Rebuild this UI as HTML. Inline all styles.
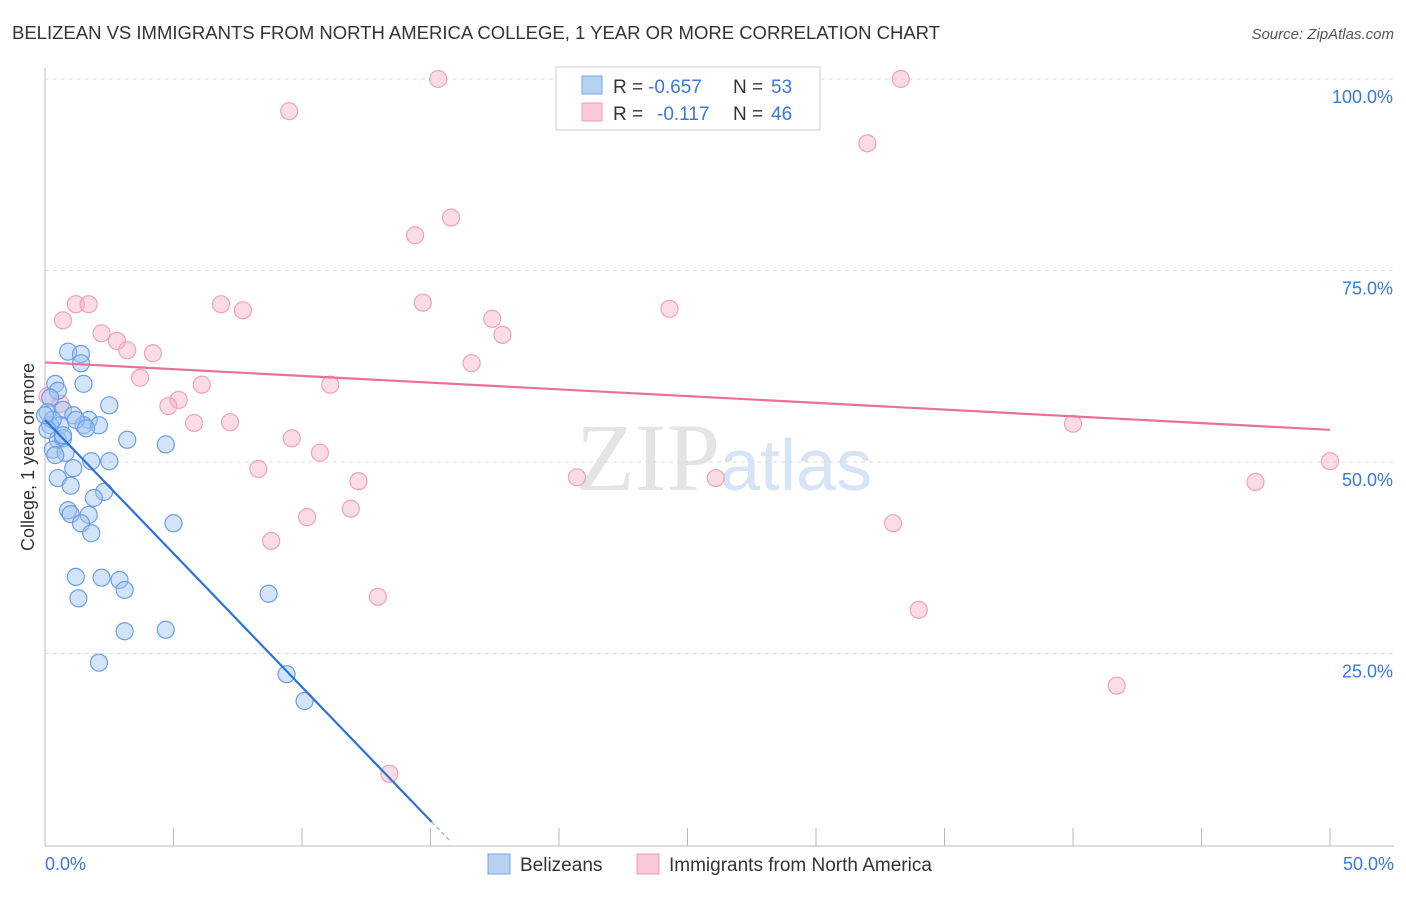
<!DOCTYPE html>
<html><head><meta charset="utf-8"><style>
body{margin:0;background:#fff;font-family:"Liberation Sans",sans-serif;}
</style></head><body>
<svg width="1406" height="892" xmlns="http://www.w3.org/2000/svg">
<text x="12" y="39" font-size="18" fill="#333" textLength="928" lengthAdjust="spacingAndGlyphs">BELIZEAN VS IMMIGRANTS FROM NORTH AMERICA COLLEGE, 1 YEAR OR MORE CORRELATION CHART</text>
<text x="1394" y="39" font-size="15" fill="#555" font-style="italic" text-anchor="end">Source: ZipAtlas.com</text>
<text x="720" y="490" font-size="96" fill="#e4e4e4" font-family="Liberation Serif" text-anchor="end">ZIP</text>
<text x="720" y="490" font-size="72" fill="#d6e4f5">atlas</text>
<g id="grid"></g>
<line x1="45" y1="68" x2="45" y2="846" stroke="#bbb"/>
<line x1="45" y1="846" x2="1394" y2="846" stroke="#bbb"/>
<g id="ticks"></g>
<text x="34" y="457" font-size="18" fill="#333" text-anchor="middle" transform="rotate(-90 34 457)">College, 1 year or more</text>
<text x="45" y="870" font-size="18" fill="#3b78d8">0.0%</text>
<text x="1394" y="870" font-size="18" fill="#3b78d8" text-anchor="end">50.0%</text>
<g id="pts"></g>
<g id="lines"></g>
<g>
<rect x="556" y="67" width="264" height="63" fill="#fff" stroke="#ccc"/>
<rect x="582" y="76" width="20" height="18" fill="#b7d1f3" stroke="#7aa6e6"/>
<rect x="582" y="103" width="20" height="18" fill="#f9c9d7" stroke="#ee9bb4"/>
<text x="613" y="93" font-size="19" fill="#333">R =</text>
<text x="648" y="93" font-size="19" fill="#3b78d8">-0.657</text>
<text x="733" y="93" font-size="19" fill="#333">N =</text>
<text x="771" y="93" font-size="19" fill="#3b78d8">53</text>
<text x="613" y="120" font-size="19" fill="#333">R =</text>
<text x="657" y="120" font-size="19" fill="#3b78d8">-0.117</text>
<text x="733" y="120" font-size="19" fill="#333">N =</text>
<text x="771" y="120" font-size="19" fill="#3b78d8">46</text>
</g>
<g>
<rect x="488" y="854" width="22" height="20" fill="#b7d1f3" stroke="#7aa6e6"/>
<text x="520" y="871" font-size="19" fill="#333">Belizeans</text>
<rect x="637" y="854" width="22" height="20" fill="#f9c9d7" stroke="#ee9bb4"/>
<text x="669" y="871" font-size="19" fill="#333">Immigrants from North America</text>
</g>
</svg>
<script>
const yTicks=[25,50,75,100];
const yTickLabels=["25.0%","50.0%","75.0%","100.0%"];
const xTicks=[0,5,10,15,20,25,30,35,40,45,50];
const blueX=[0.9,1.4,1.4,1.5,0.4,0.5,2.5,0.2,0.1,0.7,1.1,1.7,1.5,0.6,0.2,3.2,4.7,0.5,0.7,0.3,0.8,1.8,2.5,1.1,0.5,1.0,2.3,1.9,0.9,1.0,1.7,1.4,1.8,5.0,1.2,2.2,2.9,3.1,1.3,8.7,3.1,4.7,2.1,9.4,10.1,0.3,0.1,0.4,1.2,2.1,0.7,1.6,0.0];
const blueY=[64.4,64.1,62.9,60.2,60.2,59.3,57.4,58.4,56.5,56.8,56.1,55.5,54.8,54.8,54.8,52.9,52.3,52.9,53.1,51.6,51.2,50.1,50.1,49.2,47.9,46.9,46.1,45.3,43.7,43.2,43.1,42.0,40.7,42.0,35.0,34.9,34.6,33.3,32.2,32.8,27.9,28.1,23.8,22.3,18.8,55.5,54.2,50.9,55.5,54.8,53.5,54.4,56.1];
const pinkX=[15.3,33.3,9.5,32.0,15.8,14.4,1.2,1.7,6.85,7.7,14.7,24.3,0.7,17.4,17.8,2.2,2.8,3.2,4.2,16.6,3.7,6.1,11.1,5.2,4.8,0.6,5.8,7.2,40.0,9.6,10.7,8.3,20.7,26.1,50.0,47.1,12.2,11.9,10.2,33.0,8.8,12.95,34.0,41.7,13.4,0.1];
const pinkY=[100,100,95.8,91.6,81.9,79.6,70.6,70.6,70.6,69.8,70.8,70.0,68.5,68.7,66.6,66.8,65.8,64.6,64.2,62.9,61.0,60.1,60.1,58.1,57.3,57.6,55.1,55.2,55.0,53.1,51.2,49.1,48.0,47.9,50.1,47.4,47.5,43.9,42.8,42.0,39.7,32.4,30.7,20.8,9.3,58.6];
const blueLine={x0:0,y0:55.5,x1:15.05,y1:3.0};
const pinkLine={x0:0,y0:63.0,x1:50,y1:54.2};
const X=v=>45+v/50*1285, Y=v=>845-v/100*766;
const NS="http://www.w3.org/2000/svg";
function mk(t,a,p){const e=document.createElementNS(NS,t);for(const k in a)e.setAttribute(k,a[k]);p.appendChild(e);return e;}
const grid=document.getElementById('grid'),ticks=document.getElementById('ticks'),pts=document.getElementById('pts'),lines=document.getElementById('lines');
yTicks.forEach((t,i)=>{
 const l=mk('line',{x1:45,x2:1394,y1:Y(t),y2:Y(t),stroke:'#ddd','stroke-dasharray':'4,4'},grid);
 
 
 const tx=mk('text',{x:1393,y:Y(t)+24,'font-size':18,fill:'#3b78d8','text-anchor':'end'},ticks);
 tx.textContent=yTickLabels[i];
 
 
});
xTicks.forEach(t=>{
 const l=mk('line',{x1:X(t),x2:X(t),y1:828,y2:846,stroke:'#bbb'},ticks);
 
 
});
pinkX.forEach((x,i)=>{
 const c=mk('circle',{cx:X(x),cy:Y(pinkY[i]),r:8.5,fill:'rgba(246,176,198,0.45)',stroke:'#eea3ba','stroke-width':1.2},pts);
 
 
});
blueX.forEach((x,i)=>{
 const c=mk('circle',{cx:X(x),cy:Y(blueY[i]),r:8.5,fill:'rgba(160,195,240,0.45)',stroke:'#6a9ee6','stroke-width':1.2},pts);
 
 
});
const bl=mk('line',{x1:X(blueLine.x0),y1:Y(blueLine.y0),x2:X(blueLine.x1),y2:Y(blueLine.y1),stroke:'#2a72d8','stroke-width':2.2},lines);


const slope=(blueLine.y1-blueLine.y0)/(blueLine.x1-blueLine.x0);
const bd=mk('line',{x1:X(blueLine.x1),y1:Y(blueLine.y1),x2:X(blueLine.x1+0.7),y2:Y(blueLine.y1+slope*0.7),stroke:'#9cbde9','stroke-width':1.5,'stroke-dasharray':'4,3'},lines);


const pl=mk('line',{x1:X(pinkLine.x0),y1:Y(pinkLine.y0),x2:X(pinkLine.x1),y2:Y(pinkLine.y1),stroke:'#e8709a','stroke-width':2.2},lines);


</script>
</body></html>
